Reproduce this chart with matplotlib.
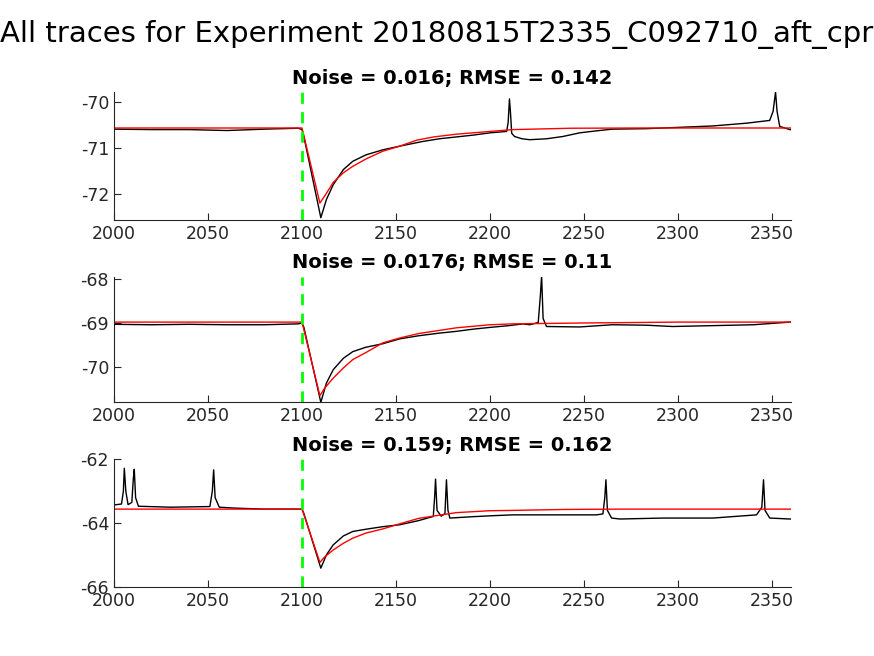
import matplotlib
matplotlib.use('Agg')
import matplotlib.pyplot as plt

plt.rcParams['axes.unicode_minus'] = False

# Trace 1 (black = recording, red = fit), times in ms, voltages in mV
t1_rec = [2000, 2020, 2040, 2060, 2080, 2098, 2100, 2101, 2110, 2113, 2116.6, 2122, 2127, 2134, 2143, 2152, 2164,
          2173, 2182, 2191, 2200, 2208.8, 2209.6, 2210.3, 2210.8, 2211.5, 2213, 2217, 2221, 2230, 2238.7, 2247.7,
          2256, 2265, 2283, 2301, 2318.5, 2336.4, 2348.7, 2350.5, 2351.8, 2352.6, 2354, 2359.4, 2360]
v1_rec = [-70.59, -70.6, -70.6, -70.62, -70.59, -70.57, -70.6, -70.76, -72.52, -72.12, -71.80, -71.47, -71.29,
          -71.15, -71.04, -70.96, -70.86, -70.8, -70.76, -70.72, -70.67, -70.64, -70.45, -69.93, -70.2, -70.68,
          -70.75, -70.8, -70.82, -70.8, -70.75, -70.67, -70.63, -70.59, -70.58, -70.55, -70.52, -70.46, -70.40,
          -70.2, -69.78, -70.2, -70.53, -70.6, -70.6]
t1_fit = [2000, 2100, 2109.5, 2112, 2116.6, 2122, 2127, 2134, 2143, 2152, 2161, 2170, 2182, 2200, 2212,
          2243, 2280, 2360]
v1_fit = [-70.565, -70.565, -72.2, -72.05, -71.75, -71.54, -71.40, -71.24, -71.07, -70.96, -70.83, -70.76, -70.70,
          -70.64, -70.60, -70.57, -70.565, -70.565]

# Trace 2
t2_rec = [2000, 2020, 2040, 2060, 2080, 2098, 2100, 2101, 2110, 2113, 2116.6, 2122, 2127, 2134, 2143, 2152, 2162,
          2173, 2182, 2191, 2200, 2210, 2217.6, 2221, 2225.6, 2226.7, 2227.4, 2228.2, 2230, 2247.7, 2265, 2283, 2297,
          2318.5, 2340, 2359.4, 2360]
v2_rec = [-69.03, -69.04, -69.03, -69.04, -69.04, -69.02, -69.0, -69.1, -70.80, -70.36, -70.06, -69.80, -69.65,
          -69.55, -69.47, -69.36, -69.29, -69.23, -69.19, -69.14, -69.10, -69.06, -69.02, -69.04, -68.99, -68.4,
          -67.93, -68.9, -69.08, -69.09, -69.04, -69.05, -69.08, -69.06, -69.04, -68.98, -68.98]
t2_fit = [2000, 2100, 2109.5, 2112, 2116.6, 2122, 2127, 2134, 2143, 2152, 2162, 2182,
          2200, 2212, 2250, 2300, 2360]
v2_fit = [-68.98, -68.98, -70.65, -70.48, -70.25, -70.02, -69.83, -69.67, -69.45, -69.34, -69.24, -69.11,
          -69.04, -69.02, -69.0, -68.98, -68.98]

# Trace 3
t3_rec = [2000, 2004, 2005, 2005.5, 2006.3, 2007.5, 2009.5, 2010.3, 2010.8, 2011.5, 2013, 2030, 2051, 2052.3, 2053,
          2053.8, 2056, 2065, 2080, 2100, 2101, 2110, 2113, 2116.6, 2122, 2127, 2134, 2143, 2152, 2162, 2169.8,
          2170.5, 2171, 2171.8, 2174, 2176, 2176.8, 2177.6, 2178.6, 2190, 2200, 2212, 2230, 2256.6, 2260, 2261,
          2261.6, 2262.4, 2264.6, 2269, 2292, 2318.5, 2341.7, 2344.5, 2345.4, 2346.2, 2348.7, 2359.4, 2360]
v3_rec = [-63.43, -63.4, -63.0, -62.28, -63.0, -63.42, -63.35, -62.6, -62.31, -63.2, -63.47, -63.5, -63.48, -63.0,
          -62.33, -63.2, -63.5, -63.53, -63.56, -63.56, -63.7, -65.41, -64.99, -64.68, -64.40, -64.26, -64.19,
          -64.11, -64.05, -63.92, -63.79, -63.2, -62.62, -63.6, -63.78, -63.7, -62.64, -63.6, -63.84, -63.8,
          -63.77, -63.74, -63.74, -63.74, -63.71, -63.2, -62.64, -63.6, -63.84, -63.87, -63.84, -63.84, -63.74,
          -63.5, -62.64, -63.6, -63.84, -63.87, -63.87]
t3_fit = [2000, 2100, 2109.5, 2112, 2116.6, 2122, 2127, 2134, 2143, 2152, 2162, 2182,
          2200, 2212, 2240, 2270, 2360]
v3_fit = [-63.56, -63.56, -65.23, -65.06, -64.84, -64.63, -64.47, -64.31, -64.18, -64.02, -63.85, -63.67,
          -63.61, -63.60, -63.57, -63.56, -63.56]

titles = ['Noise = 0.016; RMSE = 0.142', 'Noise = 0.0176; RMSE = 0.11', 'Noise = 0.159; RMSE = 0.162']
ylims = [(-72.57, -69.78), (-70.80, -67.95), (-66, -62)]
yticks = [[-72, -71, -70], [-70, -69, -68], [-66, -64, -62]]
xticks = [2000, 2050, 2100, 2150, 2200, 2250, 2300, 2350]
stim_time = 2100

traces = [(t1_rec, v1_rec, t1_fit, v1_fit),
          (t2_rec, v2_rec, t2_fit, v2_fit),
          (t3_rec, v3_rec, t3_fit, v3_fit)]

positions = [[0.1304, 0.6646, 0.7746, 0.1952],
             [0.1304, 0.3867, 0.7746, 0.1915],
             [0.1304, 0.1052, 0.7746, 0.1946]]

fig = plt.figure(figsize=(8.74, 6.56), dpi=100)
fig.text(0.5, 0.947, 'All traces for Experiment 20180815T2335_C092710_aft_cpr', ha='center', va='center',
         fontsize=21)

for i in range(3):
    ax = fig.add_axes(positions[i])
    t_rec, v_rec, t_fit, v_fit = traces[i]
    ax.plot(t_rec, v_rec, color='black', lw=1.0)
    ax.plot(t_fit, v_fit, color='red', lw=1.0)
    ax.axvline(stim_time, color=(0, 1, 0), lw=2, ls=(0, (4, 3)))
    ax.set_xlim(2000, 2360)
    ax.set_ylim(ylims[i])
    ax.set_xticks(xticks)
    ax.set_yticks(yticks[i])
    ax.set_title(titles[i], fontsize=14, fontweight='bold', pad=6)
    for side in ['top', 'right']:
        ax.spines[side].set_visible(False)
    for side in ['left', 'bottom']:
        ax.spines[side].set_color('#262626')
    ax.tick_params(direction='in', length=5, colors='#262626', labelsize=12.5)

plt.savefig('out.png', dpi=100)
